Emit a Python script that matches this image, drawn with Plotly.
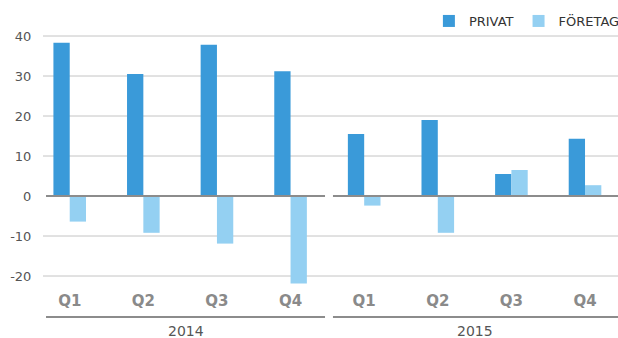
import plotly.graph_objects as go

years = ["2014", "2015"]
quarters = ["Q1", "Q2", "Q3", "Q4"]
series_names = ["PRIVAT", "FÖRETAG"]
privat = [38.3, 30.5, 37.8, 31.2, 15.5, 19.0, 5.5, 14.3]
foretag = [-6.4, -9.2, -11.9, -21.9, -2.4, -9.2, 6.5, 2.7]
y_ticks = [-20, -10, 0, 10, 20, 30, 40]
y_ticktext = ["-20", "-10", "0", "10", "20", "30", "40"]

colors = ["#3a9ad9", "#94d0f2"]
n = len(years) * len(quarters)
xpos = list(range(n))
xlabels = quarters * len(years)

W, H = 618, 338
ml, mr, mt, mb = 43, 0, 28, 48
xr = [-0.363, 7.448]
yr = [-23.5, 42]
plot_h = H - mt - mb

fig = go.Figure()
for name, vals, c in zip(series_names, [privat, foretag], colors):
    fig.add_trace(go.Bar(x=xpos, y=vals, name=name, marker=dict(color=c, line=dict(width=0))))

def xp(v):
    return (v - xr[0]) / (xr[1] - xr[0])

def yp(px):
    return (H - mb - px) / plot_h

# grid lines (excluding zero, which is drawn as segmented axis line)
for v in y_ticks:
    if v != 0:
        fig.add_shape(type="line", xref="paper", yref="y", x0=0, x1=1, y0=v, y1=v,
                      line=dict(color="#c4c4c4", width=1), layer="below")

segments = [(-0.322, 3.468), (3.576, 7.448)]
for (a, b), yl in zip(segments, years):
    fig.add_shape(type="line", xref="paper", yref="y", x0=xp(a), x1=xp(b), y0=0, y1=0,
                  line=dict(color="#8c8c8c", width=2), layer="above")
    fig.add_shape(type="line", xref="paper", yref="paper", x0=xp(a), x1=xp(b),
                  y0=yp(317), y1=yp(317),
                  line=dict(color="#8c8c8c", width=2))
    fig.add_annotation(xref="paper", yref="paper", x=(xp(a) + xp(b)) / 2, y=yp(331),
                       text=yl, showarrow=False, xanchor="center", yanchor="middle",
                       font=dict(family="DejaVu Sans", size=14, color="#555555"))

fig.update_layout(
    width=W, height=H,
    margin=dict(l=ml, r=mr, t=mt, b=mb, pad=0, autoexpand=False),
    paper_bgcolor="white", plot_bgcolor="white",
    barmode="group", bargap=0.557, bargroupgap=0,
    showlegend=True,
    legend=dict(orientation="h", xref="paper", yref="paper",
                x=1.012, xanchor="right", y=yp(21), yanchor="middle",
                bgcolor="rgba(0,0,0,0)",
                font=dict(family="DejaVu Sans", size=13, color="#333333"),
                itemwidth=30, traceorder="normal"),
    xaxis=dict(range=xr, tickmode="array", tickvals=xpos, ticktext=xlabels,
               showgrid=False, zeroline=False, showline=False,
               ticks="", tickfont=dict(family="DejaVu Sans", size=15, color="#8a8a8a", weight="bold")),
    yaxis=dict(range=yr, tickmode="array", tickvals=y_ticks, ticktext=y_ticktext,
               showgrid=False, zeroline=False, showline=False,
               ticks="outside", ticklen=8, tickcolor="rgba(0,0,0,0)",
               tickfont=dict(family="DejaVu Sans", size=13, color="#555555")),
)

fig.write_html("out.html")
